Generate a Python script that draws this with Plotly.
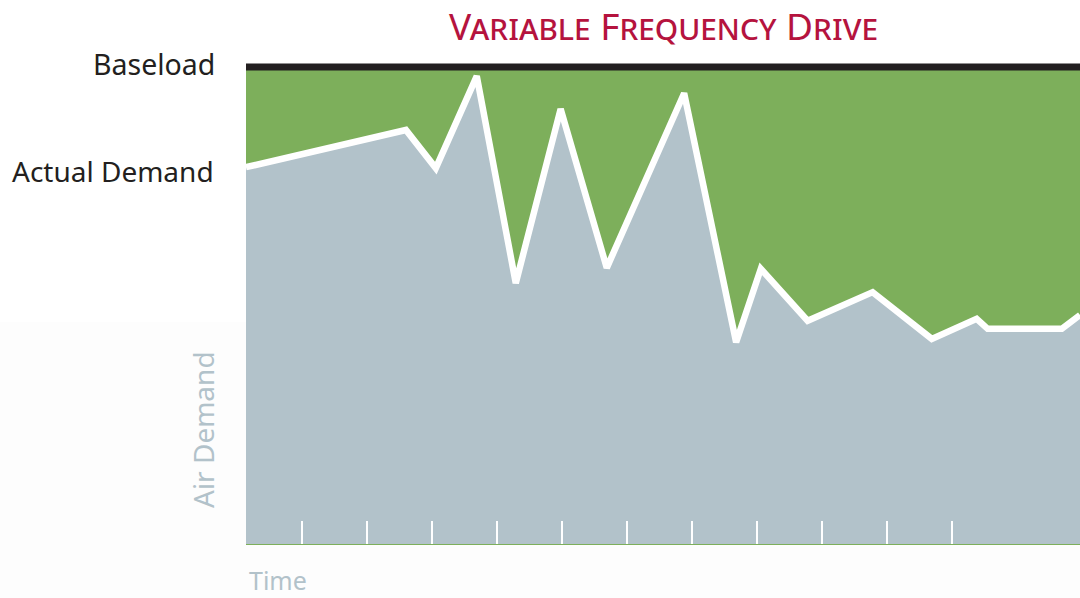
import plotly.graph_objects as go

# Time axis in tick units, air demand in % of baseload
time = [0.14, 2.6, 3.06, 3.69, 4.29, 4.98, 5.69, 6.88, 7.68, 8.06, 8.78, 9.78, 10.69, 11.38, 11.55, 12.69, 12.97]
demand = [79.0, 86.8, 78.8, 98.1, 54.7, 91.2, 57.9, 94.5, 42.3, 57.7, 46.8, 52.8, 43.0, 47.2, 45.1, 45.1, 48.0]
baseload_time = [0.14, 12.97]
baseload = [100, 100]
tick_positions = list(range(1, 12))

title_text = "Variable Frequency Drive"
label_baseload = "Baseload"
label_actual = "Actual Demand"
y_title = "Air Demand"
x_title = "Time"

GREEN = "#7daf5b"
GREY = "#b2c2ca"
BLACK = "#231f20"
RED = "#b5133e"
FONT = "Noto Sans"

W, H = 1080, 598
L, R, T, B = 246, 0, 60, 54

fig = go.Figure()

# grey area under the actual demand
fig.add_trace(go.Scatter(x=time, y=demand, mode="lines", line=dict(width=0, color=GREY),
                         fill="tozeroy", fillcolor=GREY, hoverinfo="skip", showlegend=False))
# green savings area between demand and baseload
fig.add_trace(go.Scatter(x=baseload_time, y=baseload, mode="lines", line=dict(width=0, color=GREEN),
                         fill="tonexty", fillcolor=GREEN, hoverinfo="skip", showlegend=False))
# baseload line
fig.add_trace(go.Scatter(x=baseload_time, y=baseload, mode="lines", line=dict(width=7, color=BLACK),
                         hoverinfo="skip", showlegend=False))
# actual demand line
fig.add_trace(go.Scatter(x=time, y=demand, mode="lines", line=dict(width=6.5, color="white"),
                         hoverinfo="skip", showlegend=False))

plot_h = H - T - B
ymax = 100 * plot_h / (544 - 67)

fig.update_layout(
    width=W, height=H,
    margin=dict(l=L, r=R, t=T, b=B, pad=0),
    paper_bgcolor="white",
    plot_bgcolor="rgba(0,0,0,0)",
    showlegend=False,
    font=dict(family=FONT),
    xaxis=dict(range=[0.14, 12.97], showgrid=False, zeroline=False,
               tickmode="array", tickvals=tick_positions, ticktext=[""] * len(tick_positions),
               ticks="inside", ticklen=23, tickwidth=2, tickcolor="white",
               showline=True, linecolor=GREEN, linewidth=1, fixedrange=True),
    yaxis=dict(range=[0, ymax], showgrid=False, zeroline=False, showticklabels=False,
               ticks="", showline=False, fixedrange=True),
    shapes=[dict(type="rect", xref="paper", yref="paper", x0=-0.3, x1=1.0,
                 y0=-0.2, y1=(544 - 322) / plot_h, fillcolor="#fdfdfd",
                 line=dict(width=0), layer="below")],
    annotations=[
        dict(text=title_text, xref="paper", yref="paper", x=0.5, y=1, yshift=35,
             xanchor="center", yanchor="middle", showarrow=False,
             font=dict(family=FONT, size=37, color=RED, variant="small-caps")),
        dict(text=label_baseload, xref="paper", yref="y", x=0, xshift=-29, y=baseload[0],
             yshift=3, xanchor="right", yanchor="middle", showarrow=False,
             font=dict(family=FONT, size=28.5, color=BLACK)),
        dict(text=label_actual, xref="paper", yref="y", x=0, xshift=-30, y=demand[0],
             yshift=-4, xanchor="right", yanchor="middle", showarrow=False,
             font=dict(family=FONT, size=28, color=BLACK)),
        dict(text=y_title, xref="paper", yref="paper", x=0, xshift=-43,
             y=(544 - 430) / plot_h, xanchor="center", yanchor="middle", textangle=-90,
             showarrow=False, font=dict(family=FONT, size=28, color=GREY)),
        dict(text=x_title, xref="paper", yref="paper", x=0, xshift=1, y=0, yshift=-36,
             xanchor="left", yanchor="middle", showarrow=False,
             font=dict(family=FONT, size=25, color=GREY)),
    ],
)

fig.write_html("out.html", config={"displayModeBar": False},
               post_script="document.body.style.margin='0';document.body.style.padding='0';")
